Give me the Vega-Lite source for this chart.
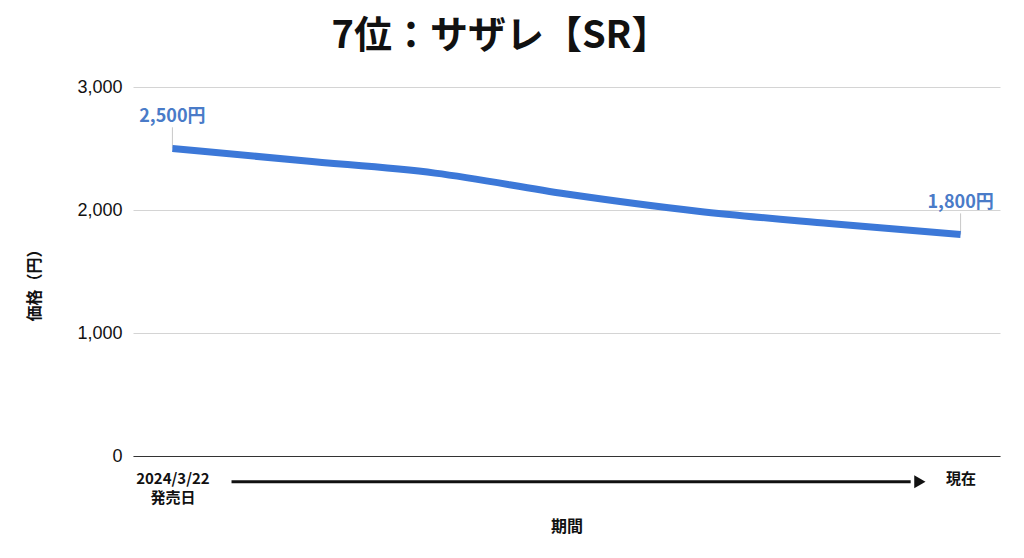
{
  "$schema": "https://vega.github.io/schema/vega-lite/v6.json",
  "width": 867,
  "height": 369,
  "autosize": "none",
  "padding": {"left": 133, "top": 87, "right": 24, "bottom": 102},
  "background": "white",
  "config": {"view": {"stroke": null}, "font": "Noto Sans CJK JP"},
  "title": {
    "text": "7位：サザレ【SR】",
    "font": "Noto Sans CJK JP",
    "fontSize": 38,
    "fontWeight": "bold",
    "color": "#111111",
    "anchor": "middle",
    "dx": -66,
    "offset": 22
  },
  "datasets": {
    "price": [
      {"step": 0, "price": 2500, "label": "2,500円"},
      {"step": 1, "price": 2400, "label": ""},
      {"step": 2, "price": 2300, "label": ""},
      {"step": 3, "price": 2130, "label": ""},
      {"step": 4, "price": 1990, "label": ""},
      {"step": 5, "price": 1890, "label": ""},
      {"step": 6, "price": 1800, "label": "1,800円"}
    ],
    "arrow": [{"step": 0.45, "step2": 5.62, "head": 5.69, "price": -210}]
  },
  "layer": [
    {
      "data": {"name": "price"},
      "transform": [{"filter": "datum.label != ''"}],
      "mark": {"type": "point", "shape": "M0,0V-1", "size": 1800, "filled": false, "stroke": "#c8c8c8", "strokeWidth": 1, "opacity": 1},
      "encoding": {
        "x": {"field": "step", "type": "quantitative", "scale": {"domain": [-0.3, 6.3], "nice": false, "zero": false},
          "axis": {
            "values": [0, 6],
            "labelExpr": "datum.value == 0 ? ['2024/3/22', '発売日'] : '現在'",
            "title": "期間",
            "ticks": false,
            "grid": false,
            "domain": true,
            "domainColor": "#333333",
            "domainWidth": 1,
            "labelFont": "Noto Sans CJK JP",
            "labelFontSize": 15,
            "labelFontWeight": "bold",
            "labelColor": "#111111",
            "labelPadding": 15,
            "labelLineHeight": 19,
            "labelOverlap": false,
            "labelFlush": false,
            "labelBound": false,
            "titleFont": "Noto Sans CJK JP",
            "titleFontSize": 16,
            "titleFontWeight": "bold",
            "titleColor": "#111111",
            "titlePadding": 13
          }
        },
        "y": {"field": "price", "type": "quantitative", "scale": {"domain": [0, 3000], "nice": false},
          "axis": {
            "values": [0, 1000, 2000, 3000],
            "format": ",d",
            "ticks": false,
            "domain": false,
            "grid": true,
            "gridColor": "#d4d4d4",
            "gridWidth": 1,
            "labelFont": "Liberation Sans",
            "labelFontSize": 18,
            "labelColor": "#111111",
            "labelPadding": 11,
            "title": "価格（円）",
            "titleFont": "Noto Sans CJK JP",
            "titleFontSize": 16,
            "titleFontWeight": "bold",
            "titleColor": "#111111",
            "titleAngle": -90,
            "titleX": -91,
            "titleY": 194
          }
        }
      }
    },
    {
      "data": {"name": "price"},
      "mark": {"type": "line", "interpolate": "monotone", "color": "#3c78d8", "strokeWidth": 7, "strokeCap": "butt"},
      "encoding": {
        "x": {"field": "step", "type": "quantitative"},
        "y": {"field": "price", "type": "quantitative"}
      }
    },
    {
      "data": {"name": "price"},
      "transform": [{"filter": "datum.label != ''"}],
      "mark": {"type": "text", "dy": -32, "fontSize": 18, "fontWeight": "bold", "font": "Noto Sans CJK JP", "color": "#4a7bc8"},
      "encoding": {
        "x": {"field": "step", "type": "quantitative"},
        "y": {"field": "price", "type": "quantitative"},
        "text": {"field": "label"}
      }
    },
    {
      "data": {"name": "arrow"},
      "mark": {"type": "rule", "color": "#111111", "strokeWidth": 3},
      "encoding": {
        "x": {"field": "step", "type": "quantitative"},
        "x2": {"field": "step2"},
        "y": {"field": "price", "type": "quantitative"}
      }
    },
    {
      "data": {"name": "arrow"},
      "mark": {"type": "point", "shape": "triangle-right", "filled": true, "color": "#111111", "size": 170, "opacity": 1},
      "encoding": {
        "x": {"field": "head", "type": "quantitative"},
        "y": {"field": "price", "type": "quantitative"}
      }
    }
  ]
}
